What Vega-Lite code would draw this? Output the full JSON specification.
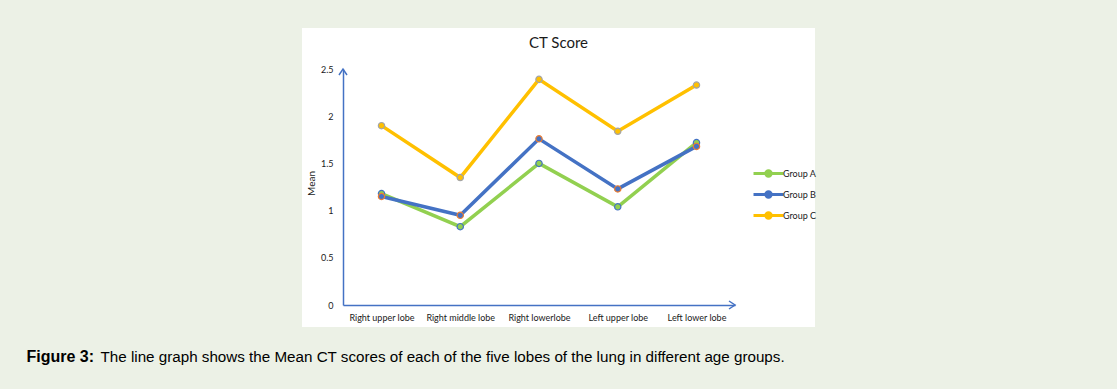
{
  "$schema": "https://vega.github.io/schema/vega-lite/v6.json",
  "width": 513,
  "height": 299,
  "autosize": "none",
  "padding": {"left": 302, "top": 28, "right": 302, "bottom": 62},
  "background": "#ecf1e6",
  "config": {
    "view": {"fill": "#ffffff", "stroke": null},
    "font": "Lato",
    "axis": {"grid": false, "ticks": false}
  },
  "title": {"text": "CT Score", "font": "Lato", "fontSize": 15, "fontWeight": "normal", "color": "#1a1a1a", "anchor": "middle", "frame": "group", "offset": -23},
  "data": {"values": [
    {"lobe": "Right upper lobe", "group": "Group A", "mean": 1.18},
    {"lobe": "Right middle lobe", "group": "Group A", "mean": 0.83},
    {"lobe": "Right lowerlobe", "group": "Group A", "mean": 1.50},
    {"lobe": "Left upper lobe", "group": "Group A", "mean": 1.04},
    {"lobe": "Left lower lobe", "group": "Group A", "mean": 1.72},
    {"lobe": "Right upper lobe", "group": "Group B", "mean": 1.15},
    {"lobe": "Right middle lobe", "group": "Group B", "mean": 0.95},
    {"lobe": "Right lowerlobe", "group": "Group B", "mean": 1.76},
    {"lobe": "Left upper lobe", "group": "Group B", "mean": 1.23},
    {"lobe": "Left lower lobe", "group": "Group B", "mean": 1.68},
    {"lobe": "Right upper lobe", "group": "Group C", "mean": 1.90},
    {"lobe": "Right middle lobe", "group": "Group C", "mean": 1.35},
    {"lobe": "Right lowerlobe", "group": "Group C", "mean": 2.39},
    {"lobe": "Left upper lobe", "group": "Group C", "mean": 1.84},
    {"lobe": "Left lower lobe", "group": "Group C", "mean": 2.33}
  ]},
  "resolve": {"axis": {"x": "independent"}},
  "layer": [
    {
      "mark": {"type": "line", "strokeWidth": 3.5},
      "encoding": {
        "x": {
          "field": "lobe", "type": "nominal",
          "sort": ["Right upper lobe", "Right middle lobe", "Right lowerlobe", "Left upper lobe", "Left lower lobe"],
          "scale": {"type": "point", "range": [41, 433], "padding": 0.489},
          "axis": {
            "orient": "bottom", "offset": -22, "labelAngle": 0, "labelFont": "Lato", "labelFontSize": 9,
            "labelColor": "#1a1a1a", "labelPadding": 8, "domainColor": "#4472c4", "domainWidth": 1.5,
            "title": "The line graph shows the Mean CT scores of each of the five lobes of the lung in different age groups.",
            "titleFont": "Liberation Sans", "titleFontSize": 15.2, "titleFontWeight": "normal", "titleColor": "#000000",
            "titleX": -202, "titleY": 56, "titleAlign": "left", "titleBaseline": "alphabetic", "titleAnchor": "start"
          }
        },
        "y": {
          "field": "mean", "type": "quantitative",
          "scale": {"domain": [0, 2.5], "range": [277, 41], "nice": false},
          "axis": {
            "offset": -41, "values": [0, 0.5, 1, 1.5, 2, 2.5], "format": "~g", "labelFont": "Lato", "labelFontSize": 9,
            "labelColor": "#1a1a1a", "labelPadding": 10, "domainColor": "#4472c4", "domainWidth": 1.5,
            "title": "Mean", "titleFont": "Lato", "titleFontSize": 10, "titleFontWeight": "normal", "titleColor": "#1a1a1a",
            "titleX": -32, "titleY": 155, "titleAngle": -90, "titleAlign": "center", "titleBaseline": "middle"
          }
        },
        "color": {
          "field": "group", "type": "nominal",
          "scale": {"domain": ["Group A", "Group B", "Group C"], "range": ["#92d050", "#4472c4", "#ffc000"]},
          "legend": {
            "orient": "none", "legendX": 455, "legendY": 134, "title": null,
            "labelFont": "Lato", "labelFontSize": 9, "labelColor": "#1a1a1a", "labelOffset": 3,
            "symbolType": "M -1.5 0 L 1.5 0 M 0.27 0 A 0.27 0.27 0 1 1 -0.27 0 A 0.27 0.27 0 1 1 0.27 0 Z",
            "symbolSize": 400, "symbolStrokeWidth": 3, "rowPadding": 0, "padding": 0,
            "encode": {"symbols": {"update": {"fill": {"scale": "color", "field": "value"}, "stroke": {"scale": "color", "field": "value"}}}}
          }
        }
      }
    },
    {
      "mark": {"type": "point", "filled": true, "size": 40, "strokeWidth": 1.2, "opacity": 1},
      "encoding": {
        "x": {
          "field": "lobe", "type": "nominal",
          "sort": ["Right upper lobe", "Right middle lobe", "Right lowerlobe", "Left upper lobe", "Left lower lobe"],
          "axis": {
            "orient": "top", "labels": false, "domain": false, "ticks": false,
            "title": "Figure 3:", "titleFont": "Liberation Sans", "titleFontSize": 16, "titleFontWeight": "bold",
            "titleColor": "#000000", "titleX": -276, "titleY": 333, "titleAlign": "left", "titleBaseline": "alphabetic", "titleAnchor": "start"
          }
        },
        "y": {"field": "mean", "type": "quantitative"},
        "fill": {"field": "group", "type": "nominal", "scale": {"domain": ["Group A", "Group B", "Group C"], "range": ["#92d050", "#4472c4", "#ffc000"]}, "legend": null},
        "stroke": {"field": "group", "type": "nominal", "scale": {"domain": ["Group A", "Group B", "Group C"], "range": ["#4472c4", "#ed7d31", "#a5a5a5"]}, "legend": null}
      }
    },
    {
      "data": {"values": [{"arrow": "y axis"}]},
      "mark": {"type": "point", "shape": "M -1 1.5 L 0 0 L 1 1.5", "filled": false, "size": 64, "stroke": "#4472c4", "strokeWidth": 1.5, "opacity": 1},
      "encoding": {
        "x": {"value": {"expr": "range('x')[0]"}},
        "y": {"datum": 2.5}
      }
    },
    {
      "data": {"values": [{"arrow": "x axis"}]},
      "mark": {"type": "point", "shape": "M -1.5 -1 L 0 0 L -1.5 1", "filled": false, "size": 64, "stroke": "#4472c4", "strokeWidth": 1.5, "opacity": 1},
      "encoding": {
        "x": {"value": {"expr": "range('x')[1]"}},
        "y": {"datum": 0}
      }
    }
  ]
}
